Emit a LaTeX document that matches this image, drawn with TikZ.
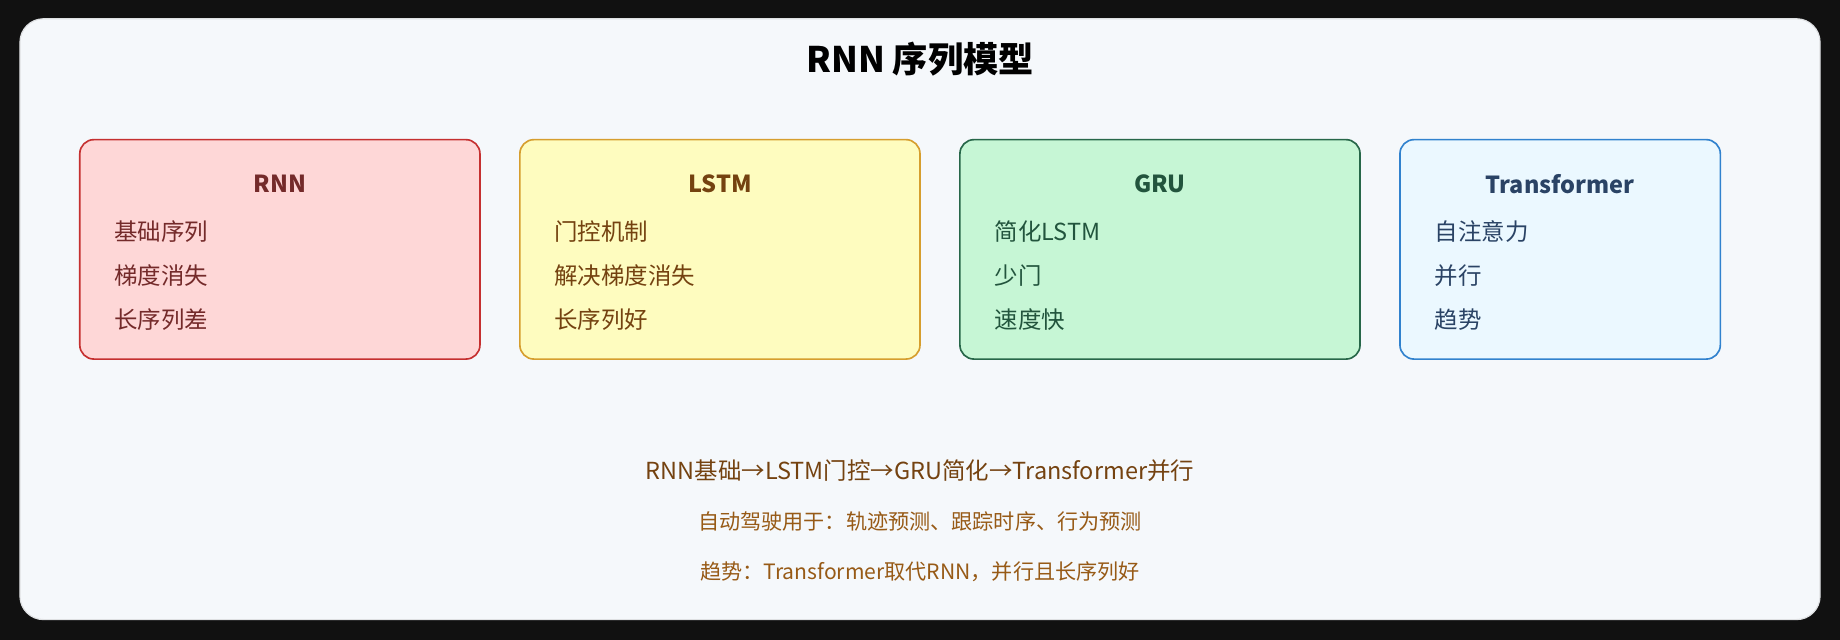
\documentclass[tikz,border=0pt]{standalone}
\usepackage{fontspec}
\setmainfont{Noto Sans CJK SC}
\usepackage{xcolor}
\usetikzlibrary{positioning}

\definecolor{bgdark}{HTML}{111111}
\definecolor{panelbg}{HTML}{F5F8FB}
\definecolor{rnnfill}{HTML}{FED7D7}\definecolor{rnndraw}{HTML}{C53030}\definecolor{rnntext}{HTML}{742A2A}
\definecolor{lstmfill}{HTML}{FEFCBF}\definecolor{lstmdraw}{HTML}{D69E2E}\definecolor{lstmtext}{HTML}{744210}
\definecolor{grufill}{HTML}{C6F6D5}\definecolor{grudraw}{HTML}{276749}\definecolor{grutext}{HTML}{22543D}
\definecolor{trffill}{HTML}{EBF8FF}\definecolor{trfdraw}{HTML}{3182CE}\definecolor{trftext}{HTML}{2A4365}
\definecolor{notetext}{HTML}{975A16}

\tikzset{
  card/.style={draw, line width=1.4pt, rounded corners=12pt, inner sep=0pt},
  cardtitle/.style={font=\fontsize{20}{24}\selectfont\bfseries, anchor=center},
  item/.style={font=\fontsize{20}{24}\selectfont, anchor=west},
  note/.style={font=\fontsize{18}{22}\selectfont, text=notetext},
}

\begin{document}
\begin{tikzpicture}[x=1pt, y=-1pt]

\fill[bgdark] (0,0) rectangle (1568,545);
\useasboundingbox (0,0) rectangle (1568,545);
\draw[panelbg!80!gray, fill=panelbg, rounded corners=20pt, line width=1pt] (17,16) rectangle (1551,528);

\node (title) at (784,50) {\fontsize{30}{36}\selectfont\bfseries RNN 序列模型};

% cards: name / left x / right x / colour prefix / title / items
\foreach \nm/\xl/\xr/\cl/\ttl/\ia/\ib/\ic in {
    rnn/68/409/rnn/RNN/基础序列/梯度消失/长序列差,
    lstm/443/784/lstm/LSTM/门控机制/解决梯度消失/长序列好,
    gru/818/1159/gru/GRU/简化LSTM/少门/速度快,
    trf/1193/1466/trf/Transformer/自注意力/并行/趋势}{
  \draw[card, draw=\cl draw, fill=\cl fill] (\xl,119) rectangle (\xr,306);
  \node[cardtitle, text=\cl text] (\nm-title) at ({(\xl+\xr)/2},157) {\ttl};
  \node[item, text=\cl text] (\nm-a) at (\xl+26,197) {\ia};
  \node[item, text=\cl text] (\nm-b) at (\xl+26,235) {\ib};
  \node[item, text=\cl text] (\nm-c) at (\xl+26,272) {\ic};
}

\node[font=\fontsize{20}{24}\selectfont, text=lstmtext] (flow) at (784,401) {RNN基础→LSTM门控→GRU简化→Transformer并行};
\node[note] (usage) at (784,444) {自动驾驶用于：轨迹预测、跟踪时序、行为预测};
\node[note] (trend) at (784,487) {趋势：Transformer取代RNN，并行且长序列好};

\end{tikzpicture}
\end{document}
